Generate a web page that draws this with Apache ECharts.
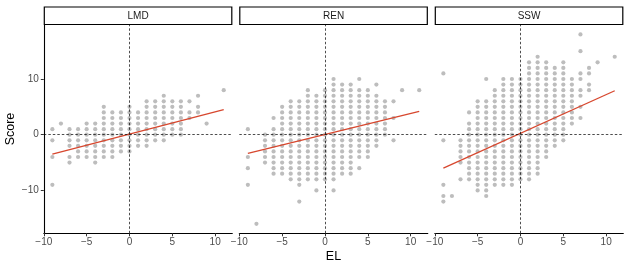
<!DOCTYPE html>
<html><head><meta charset="utf-8">
<script src="https://cdn.jsdelivr.net/npm/echarts@6/dist/echarts.min.js"></script>
<style>html,body{margin:0;padding:0;background:#fff}#c{width:630px;height:270px}</style>
</head><body><div id="c"></div>
<script>
const panelNames = ['LMD', 'REN', 'SSW'];
const xTicks = [-10, -5, 0, 5, 10];
const yTicks = [-10, 0, 10];
const xTitle = 'EL';
const yTitle = 'Score';

// columns: [EL, [Score values]]
const lmdCols = [
  [-9, [1, -1, -4, -9]],
  [-8, [2]],
  [-7, [1, 0, -1, -2, -4, -5]],
  [-6, [1, 0, -1, -2, -3, -4]],
  [-5, [2, 1, 0, -1, -2, -3, -4]],
  [-4, [2, 1, 0, -1, -2, -3, -4, -5]],
  [-3, [5, 4, 3, 2, 1, 0, -1, -2, -3, -4]],
  [-2, [4, 3, 2, 1, 0, -1, -2, -3, -4]],
  [-1, [4, 3, 2, 1, 0, -1, -2, -3]],
  [0, [5, 4, 3, 2, 1, 0, -1, -2, -3]],
  [1, [4, 3, 2, 1, 0, -1, -2]],
  [2, [6, 5, 4, 3, 2, 1, 0, -1, -2]],
  [3, [6, 5, 4, 3, 2, 1, 0, -1]],
  [4, [7, 6, 5, 4, 3, 2, 1, 0, -1]],
  [5, [6, 5, 4, 3, 2, 1, 0]],
  [6, [6, 5, 4, 3, 2, 1, 0]],
  [7, [6, 4, 3]],
  [8, [7, 5, 4]],
  [9, [2]],
  [11, [8]]
];
const renCols = [
  [-9, [1, -4, -6, -9]],
  [-8, [-16]],
  [-7, [0, -1, -2, -3, -4, -5]],
  [-6, [3, 1, 0, -1, -2, -3, -4, -5, -6, -7]],
  [-5, [5, 4, 3, 2, 1, 0, -1, -2, -3, -4, -5, -6, -7]],
  [-4, [6, 5, 4, 3, 2, 1, 0, -1, -2, -3, -4, -5, -6, -7, -8]],
  [-3, [6, 5, 4, 3, 2, 1, 0, -1, -2, -3, -4, -5, -6, -7, -8, -9, -12]],
  [-2, [8, 7, 6, 5, 4, 3, 2, 1, 0, -1, -2, -3, -4, -5, -6, -7, -8]],
  [-1, [7, 6, 5, 4, 3, 2, 1, 0, -1, -2, -3, -4, -5, -6, -7, -8, -10]],
  [0, [8, 7, 6, 5, 4, 3, 2, 1, 0, -1, -2, -3, -4, -5, -6, -7, -8]],
  [1, [10, 9, 8, 7, 6, 5, 4, 3, 2, 1, 0, -1, -2, -3, -4, -5, -6, -7, -8, -10]],
  [2, [9, 8, 7, 6, 5, 4, 3, 2, 1, 0, -1, -2, -3, -4, -5, -6, -7]],
  [3, [9, 8, 7, 6, 5, 4, 3, 2, 1, 0, -1, -2, -3, -4, -5, -6, -7]],
  [4, [10, 8, 7, 6, 5, 4, 3, 2, 1, 0, -1, -2, -3, -4, -6]],
  [5, [8, 7, 6, 5, 4, 3, 2, 1, 0, -1, -2, -3, -4]],
  [6, [9, 7, 6, 5, 4, 3, 2, 1, 0, -1, -2]],
  [7, [6, 5, 4, 3, 2, 1, 0]],
  [8, [6, 3, -1]],
  [9, [8]],
  [11, [8]]
];
const sswCols = [
  [-9, [11, -1, -9, -11, -12]],
  [-8, [-11]],
  [-7, [-1, -2, -3, -4, -5, -8]],
  [-6, [4, 2, 1, 0, -1, -2, -3, -4, -5, -6, -7, -8]],
  [-5, [6, 5, 4, 3, 2, 1, 0, -1, -2, -3, -4, -5, -6, -7, -8, -9, -10]],
  [-4, [10, 6, 5, 4, 3, 2, 1, 0, -1, -2, -3, -4, -5, -6, -7, -8, -9, -10, -11]],
  [-3, [8, 7, 6, 5, 4, 3, 2, 1, 0, -1, -2, -3, -4, -5, -6, -7, -8, -9]],
  [-2, [10, 9, 8, 7, 6, 5, 4, 3, 2, 1, 0, -1, -2, -3, -4, -5, -6, -7, -8, -9]],
  [-1, [10, 9, 8, 7, 6, 5, 4, 3, 2, 1, 0, -1, -2, -3, -4, -5, -6, -7, -8, -9]],
  [0, [10, 9, 8, 7, 6, 5, 4, 3, 2, 1, 0, -1, -2, -3, -4, -5, -6, -7, -8]],
  [1, [13, 12, 11, 10, 9, 8, 7, 6, 5, 4, 3, 2, 1, 0, -1, -2, -3, -4, -5, -6, -7, -8]],
  [2, [14, 13, 12, 11, 10, 9, 8, 7, 6, 5, 4, 3, 2, 1, 0, -1, -2, -3, -4, -5, -6, -7]],
  [3, [13, 12, 11, 10, 9, 8, 7, 6, 5, 4, 3, 2, 1, 0, -1, -2, -3, -4]],
  [4, [12, 11, 10, 9, 8, 7, 6, 5, 4, 3, 2, 1, 0, -1, -2]],
  [5, [13, 12, 11, 10, 9, 8, 7, 6, 5, 4, 3, 2, 1, 0, -1]],
  [6, [10, 9, 8, 7, 6, 5, 4, 3, 2]],
  [7, [18, 15, 11, 10, 8, 7, 5, 3]],
  [8, [12, 11, 9, 8]],
  [9, [13]],
  [11, [14]]
];
// fitted regression line endpoints (EL, Score)
const lmdFit = [[-9, -3.5], [11, 4.5]];
const renFit = [[-9, -3.35], [11, 4.2]];
const sswFit = [[-9, -6.0], [11, 7.9]];

const allCols = [lmdCols, renCols, sswCols];
const allFits = [lmdFit, renFit, sswFit];

function toPoints(cols) {
  const out = [];
  cols.forEach(c => c[1].forEach(y => out.push([c[0], y])));
  return out;
}
const fmt = v => (v < 0 ? '\u2212' + Math.abs(v) : String(v));

const FONT = '"Liberation Sans", Arial, sans-serif';
const lefts = [43.8, 239.3, 434.8];
const W = 188.5, T = 25, H = 208.3;

const grids = [], xAxes = [], yAxes = [], series = [], graphics = [];
panelNames.forEach((name, i) => {
  grids.push({ left: lefts[i], top: T, width: W, height: H, containLabel: false });
  xAxes.push({
    type: 'value', gridIndex: i, min: -10, max: 12,
    axisLine: { show: true, onZero: false, lineStyle: { color: '#000', width: 1.1 } },
    axisTick: { show: true, length: 3, customValues: xTicks, lineStyle: { color: '#333', width: 1 } },
    axisLabel: { show: true, customValues: xTicks, formatter: fmt, color: '#4d4d4d', fontSize: 10, margin: 4, fontFamily: FONT },
    splitLine: { show: false }
  });
  const first = i === 0;
  yAxes.push({
    type: 'value', gridIndex: i, min: -17.7, max: 19.7,
    axisLine: { show: first, onZero: false, lineStyle: { color: '#000', width: 1.1 } },
    axisTick: { show: first, length: 3, customValues: yTicks, lineStyle: { color: '#333', width: 1 } },
    axisLabel: { show: first, customValues: yTicks, formatter: fmt, color: '#4d4d4d', fontSize: 10, margin: 5, fontFamily: FONT },
    splitLine: { show: false }
  });
  series.push({
    type: 'scatter', xAxisIndex: i, yAxisIndex: i,
    data: toPoints(allCols[i]), symbolSize: 4.2,
    itemStyle: { color: '#bdbdbd', opacity: 1 }, silent: true, animation: false, z: 2
  });
  series.push({
    type: 'line', xAxisIndex: i, yAxisIndex: i,
    data: allFits[i], showSymbol: false, symbol: 'none',
    lineStyle: { color: '#d7472e', width: 1.3 }, silent: true, animation: false, z: 4,
    markLine: {
      silent: true, symbol: ['none', 'none'], animation: false, label: { show: false },
      lineStyle: { color: '#000', type: [2.5, 2], width: 0.7 },
      data: [{ xAxis: 0 }, { yAxis: 0 }]
    }
  });
  graphics.push({
    type: 'rect', shape: { x: lefts[i] + 0.5, y: 7, width: W - 1, height: 17.5 },
    style: { fill: '#fff', stroke: '#000', lineWidth: 1.2 }
  });
  graphics.push({
    type: 'text', x: lefts[i] + W / 2, y: 16,
    style: { text: name, fill: '#1a1a1a', font: '10px ' + FONT, textAlign: 'center', textVerticalAlign: 'middle' }
  });
});
graphics.push({
  type: 'text', x: 333.5, y: 256.5,
  style: { text: xTitle, fill: '#000', font: '12.5px ' + FONT, textAlign: 'center', textVerticalAlign: 'middle' }
});
graphics.push({
  type: 'text', x: 11, y: 129, rotation: Math.PI / 2,
  style: { text: yTitle, fill: '#000', font: '12.5px ' + FONT, textAlign: 'center', textVerticalAlign: 'middle' }
});

const chart = echarts.init(document.getElementById('c'), null, { renderer: 'canvas' });
chart.setOption({
  backgroundColor: '#fff',
  animation: false,
  grid: grids, xAxis: xAxes, yAxis: yAxes, series: series,
  graphic: graphics
});
</script>
</body></html>
